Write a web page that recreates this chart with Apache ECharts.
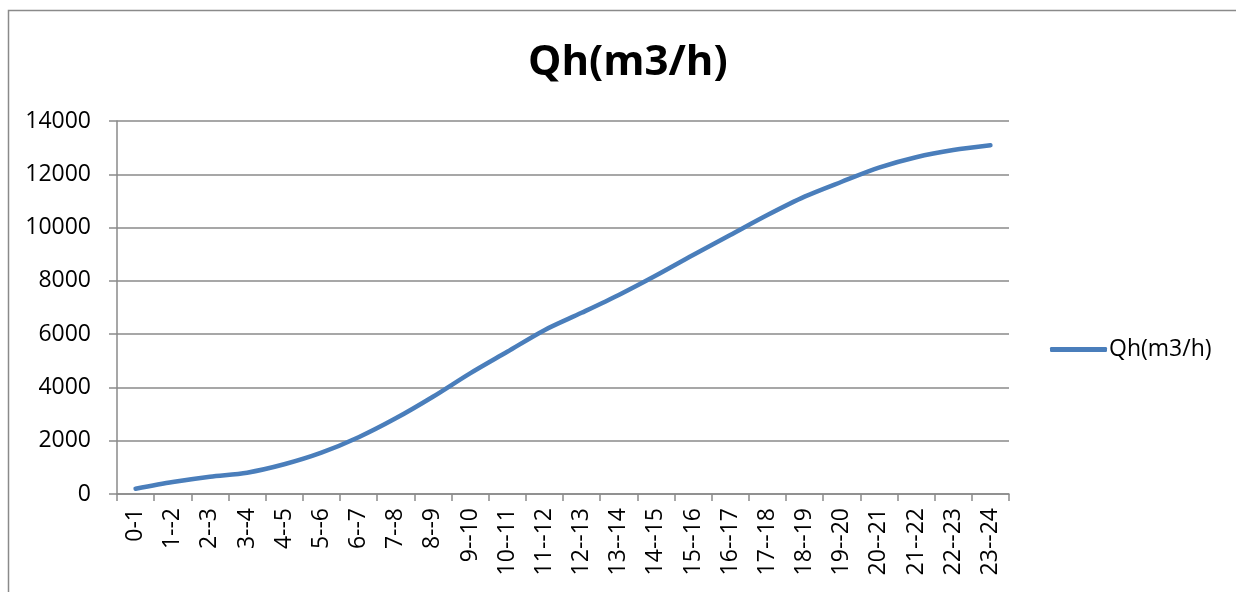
<!DOCTYPE html>
<html>
<head>
<meta charset="utf-8">
<script src="https://cdn.jsdelivr.net/npm/echarts@6/dist/echarts.min.js"></script>
<style>
html,body{margin:0;padding:0;background:#fff;}
#chart{width:1236px;height:592px;}
</style>
</head>
<body>
<div id="chart"></div>
<script>
const categories = ['0-1','1--2','2--3','3--4','4--5','5--6','6--7','7--8','8--9','9--10','10--11','11--12','12--13','13--14','14--15','15--16','16--17','17--18','18--19','19--20','20--21','21--22','22--23','23--24'];
const qh = [200, 450, 650, 800, 1115, 1550, 2130, 2840, 3650, 4530, 5340, 6150, 6800, 7470, 8200, 8970, 9720, 10470, 11160, 11720, 12250, 12640, 12910, 13090];
const seriesName = 'Qh(m3/h)';
const titleText = 'Qh(m3/h)';

const chart = echarts.init(document.getElementById('chart'), null, {renderer: 'canvas'});
const font = "'Open Sans', 'Liberation Sans', sans-serif";
chart.setOption({
  animation: false,
  backgroundColor: '#fff',
  title: {
    text: titleText,
    left: 523,
    top: 37,
    textStyle: {fontFamily: font, fontWeight: 'bold', fontSize: 42, color: '#000'}
  },
  legend: {
    left: 1045,
    top: 333,
    icon: 'roundRect',
    itemWidth: 57,
    itemHeight: 5,
    itemGap: 4,
    textStyle: {fontFamily: font, fontSize: 23, color: '#000', padding: [0,0,0,-3]},
    data: [seriesName]
  },
  graphic: [{
    type: 'polyline',
    shape: {points: [[8.5, 600], [8.5, 10.5], [1240, 10.5]]},
    style: {stroke: '#8a8a8a', lineWidth: 1.5, fill: null}
  }],
  grid: {left: 117, right: 227, top: 121, bottom: 98},
  xAxis: {
    type: 'category',
    data: categories,
    boundaryGap: true,
    axisLine: {lineStyle: {color: '#8a8a8a', width: 1.5}},
    axisTick: {show: true, length: 7, lineStyle: {color: '#8a8a8a', width: 1.5}},
    axisLabel: {rotate: 90, interval: 0, margin: 14, fontFamily: font, fontSize: 23, color: '#000'}
  },
  yAxis: {
    type: 'value',
    min: 0, max: 14000, interval: 2000,
    axisLine: {show: true, lineStyle: {color: '#8a8a8a', width: 1.5}},
    axisTick: {show: true, length: 8, lineStyle: {color: '#8a8a8a', width: 1.5}},
    splitLine: {lineStyle: {color: '#8a8a8a', width: 1.5}},
    axisLabel: {margin: 26, fontFamily: font, fontSize: 23, color: '#000', formatter: v => String(v)}
  },
  series: [{
    name: seriesName,
    type: 'line',
    data: qh,
    smooth: 0.3,
    showSymbol: false,
    symbol: 'none',
    lineStyle: {color: '#4a7ebb', width: 4.5, cap: 'round', join: 'round'},
    itemStyle: {color: '#4a7ebb'}
  }]
});
</script>
</body>
</html>
